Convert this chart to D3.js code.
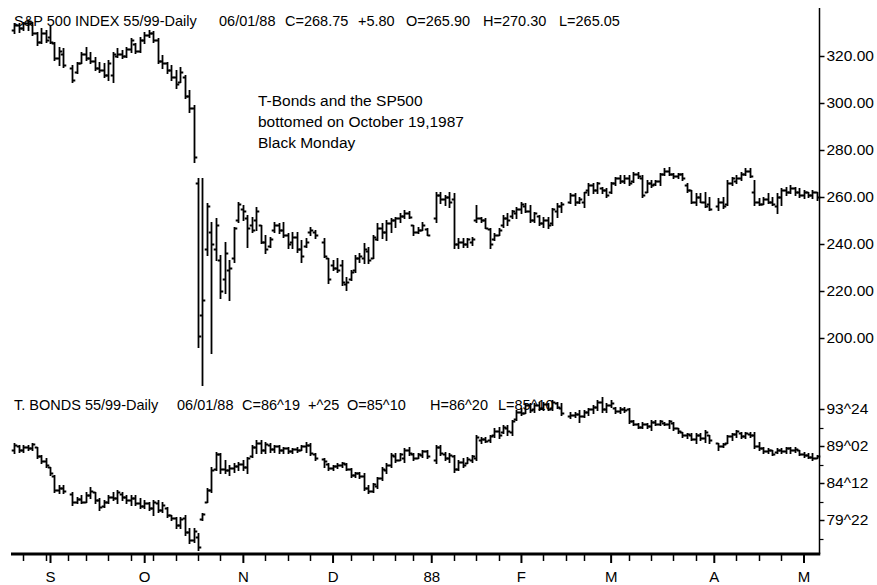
<!DOCTYPE html>
<html><head><meta charset="utf-8">
<script src="https://cdn.jsdelivr.net/npm/d3@7/dist/d3.min.js"></script>
<style>
html,body{margin:0;padding:0;background:#fff;}
svg{display:block;}
text{font-family:"Liberation Sans",Arial,sans-serif;fill:#000;}
</style></head>
<body>
<svg id="chart" width="877" height="585"></svg>
<script>
// ---------- DATA ----------
// Bars are consecutive trading days (Aug 20 1987 .. early May 1988); null = no bar drawn
// S&P 500 futures, daily [open, high, low, close]
const spx = [
[331,334,329.8,333],[333,334,330.2,332],[332,334.5,331.1,334],[334,335.3,331.1,335],[334,334.5,328.9,330],
[330,330.2,324.7,326],[326,331.9,325.5,330],[330,331.1,326,327],[328,333.2,325.5,326],[325.5,326,318.3,319],
[319,323.8,316.2,322],[321,323.4,315.3,316],null,[315,316.2,308.9,310],[313,317.4,312.8,317],
[317,321.7,317,321],[321,323.8,318.3,319],[319,321.7,317,318],[318,319.6,314,315],[315,317.4,313.2,314],
[314,317,311,312],[312,318.3,309.8,317],[312,321.7,309,321],[320,323.4,319.6,321],[321,322.6,319.2,320],
[320,323.8,319.6,323],[323,327.7,321.7,327],[325,325.5,321.3,322],[322,328,321.7,327],[327,330.2,325.5,329],
[329,331.1,328.1,330],[330,330.6,326,327],[327,327.7,317,318],[318,320.4,314.9,317],[317,317.4,312.8,314],
[314,316.2,309.8,311],[311,314,306.4,308],[309,315.3,309,313],[311,311.9,302.1,303],[303,305.5,296.2,298],
[298,299.1,274.9,277],[266,268,196,201],[210,268,180,216],[238,257.4,235.3,256],[245,249.4,193.6,240],
[238,251,233.2,248],[233,235.3,217,220],[225,240.9,219.2,236],[229,233.2,216.2,230],[234,247.2,232.3,247],
[250,257.9,249.4,257],[255,256.6,250.2,254],[251,252.4,238.7,247],[248,251.5,245.1,246],[250,255.8,246,254],
[248,248.1,240.4,241],[241,243.8,236.2,238],[239,243,238.7,242],[246,249.4,245.1,248],[248,249,244.7,246],
[246,249.4,243,244],[244,244.7,238.3,240],[241,245.1,238.3,243],[243,245.1,236.6,238],[238,241.7,232.3,235],
[239,242.6,238.7,241],[245,247.2,243.8,246],[245,246,242.6,244],null,[241,242.6,234.5,235],
[234,234,223.4,225],[231,233.2,229,230],[230,234,228.1,229],[231,233.2,222.6,224],[223,226,220.4,224],
[225,229,224.7,228],[229,235.3,228.1,234],[234,236.2,232.3,235],[234,240.4,231.9,238],[237,238.7,231.9,233],
[234,243.8,234,243],[242,249,241.7,247],[247,249,242.6,245],[245,250.2,241.7,249],[249,251.1,245.1,250],
[250,251.5,247.2,251],[251,253,249.4,252],[252,254.5,251.1,253],[253,254,251.1,251.5],[248,248.1,243.8,245],
[245,247.2,244.7,246],[246,249.4,246,248],[246.5,246.8,243.8,244],null,[251,262.1,249.4,261],
[261,262.1,257.5,259],[259,260.9,256.6,260],[260,262.1,255.8,258],[259,261.7,238.3,240],[240,242.6,238.3,241],
[241,242.6,238.7,240],[240,242.6,238.7,242],[241,243,239.6,242],[250,256.6,249.4,251],[251,251.5,249.4,250],
[250,251.1,246.8,247],[246.5,246.8,238.3,240],[242,244.7,241.7,244],[244,246.8,243.8,246],[248,252.4,247.2,251],
[251,253.2,248.1,250],[252,254.5,251.1,254],[253,255.8,251.1,255],[255,257.9,253.2,257],[256,257.5,253.6,254],
[254,256.6,249.4,250],[250,253.6,249.4,253],[252,252.4,248.1,249],[249,251.5,247.2,250],[250,251.5,246.8,248],
[249,255.3,248.1,255],[254,257.5,251.5,256],[256,257.9,253.6,257],null,[258,261.7,257.5,261],
[261,261.7,256.6,258],[258,260,257.5,259],[258,262.1,255.8,262],[263,265.9,260.9,265],[265,265.9,261.7,263],
[263,266.4,261.7,266],[264,264.3,261.7,263],[263,263.8,260,261],[262,266.4,261.5,266],[266,268.5,265.1,268],
[268,269.4,265.9,267],[267,269.4,265.9,268],[268,269.4,265.1,266],[267,270.6,266.4,270],[270,270.6,268,269],
[268,269.4,260,261],[262,267.2,262,266],[266,267.2,264.3,265],[265.5,267.2,265.1,267],[267,270.2,265.1,270],
[270,272.3,269.4,271],[271,272.8,269.4,270],[270,270.2,268,269],[269,270.2,268,270],[270,270.2,267.2,268],
[265,265.9,262.1,263],[263,263,257.5,258],[258,261.7,256.6,260],[260,261.7,257.9,258],[258,262.1,255.8,256],
[257,260,254.5,255],null,[256,259.6,254.5,258],[258,260,255.3,256],[257,267.2,256.6,266],
[266,268.5,265.1,268],[267,269.4,265.9,268],[268,270.6,267.2,270],[270,272.3,269.4,271],[271,272.3,268.5,269],
[262,267.2,256.6,258],[258,259.4,256.6,257],[257,260,257,259],[259,261.7,257.5,258],[258,260,256.6,257],
[256,261.7,253.2,260],[260,263.8,256.6,263],[263,264.3,260.9,262],[262,265.1,261.7,264],[264,264.3,260.9,262],
[262,263.8,260,261],[261,263,259.6,262],[262,262.1,260,261],[261,263,259.6,262],[262,262.1,258.7,260]
];
// T-Bond futures, daily [open, high, low, close] in points (decimal of 32nds)
const bond = [
[88.5,89.45,88.18,89.2],[89.0,89.19,88.31,88.6],[88.6,89.19,88.31,88.9],[88.9,89.19,88.56,88.8],[88.8,89.45,88.56,89.3],
[88.9,88.94,87.55,87.8],[87.8,87.93,86.91,87.2],[87.2,87.55,86.41,86.6],[86.4,86.41,85.39,85.6],[85.3,85.39,83.24,83.5],
[83.5,84.13,83.11,83.8],[83.8,84.13,83.11,83.4],null,[83.0,83.24,81.59,82.0],[82.0,82.61,81.85,82.4],
[82.4,82.86,81.85,82.0],[82.0,83.24,81.97,82.9],[82.9,83.87,82.48,83.4],[83.2,83.24,81.85,82.2],[82.2,82.48,80.96,81.3],
[81.5,82.23,81.34,82.0],[82.0,82.86,81.85,82.6],[82.6,83.24,82.23,82.5],[82.5,83.49,81.85,83.2],[83.0,83.24,82.23,82.6],
[82.6,82.86,81.85,82.2],[82.2,82.86,81.59,82.5],[82.5,82.86,81.59,81.9],[81.9,82.48,81.21,81.5],[81.5,82.23,81.21,81.9],
[81.8,81.97,80.96,81.2],[81.2,82.23,80.32,82.0],[81.9,82.23,80.7,81.0],[81.0,81.97,80.7,81.6],[81.2,81.34,80.07,80.3],
[80.3,80.32,79.69,79.9],[79.9,80.07,78.68,79.0],[79.0,80.07,78.68,79.8],[80.0,80.32,77.79,78.2],[78.2,78.68,76.78,77.2],
[77.2,78.68,76.9,78.3],[77.5,78.04,75.89,76.3],[79.8,80.58,79.69,80.4],[82.0,83.75,81.97,83.5],[83.5,86.41,83.24,86.0],
[86.2,88.31,86.03,88.0],[88.0,88.18,85.65,86.2],[86.2,87.29,85.65,86.0],[86.0,86.66,85.39,86.3],[86.3,86.91,85.77,86.5],
[86.5,87.04,86.03,86.8],[86.8,87.29,86.03,86.4],[86.4,87.67,85.65,87.5],[87.8,89.19,87.67,88.9],[88.9,89.83,88.18,89.5],
[89.5,89.83,88.18,88.6],[88.6,89.57,88.18,89.3],[89.2,89.45,88.31,88.7],[88.7,89.19,88.31,89.0],[89.0,89.19,88.18,88.6],
[88.6,88.94,88.18,88.8],[88.8,88.94,88.18,88.4],[88.4,88.81,88.18,88.7],[88.7,88.94,88.31,88.5],[88.6,89.19,88.56,89.0],
[89.0,89.57,88.31,89.2],[89.2,89.45,87.93,88.2],[88.0,88.18,87.29,87.5],null,[87.4,87.55,86.41,87.2],
[86.8,86.91,86.03,86.3],[86.3,86.66,86.03,86.5],[86.5,86.91,86.28,86.7],[86.7,87.04,86.41,86.9],[86.8,86.91,86.03,86.2],
[86.2,86.28,85.14,85.4],[85.4,85.77,85.14,85.6],[85.6,85.77,85.01,85.2],[85.2,85.65,83.49,83.8],[83.8,84.13,83.11,83.4],
[83.4,84.38,83.24,84.2],[84.0,85.14,83.75,85.0],[85.0,86.41,84.76,86.2],[86.0,86.91,85.65,86.7],[86.7,88.18,86.41,87.9],
[87.8,88.18,87.04,87.3],[87.3,88.18,87.29,88.0],[87.5,88.81,87.04,88.5],[88.5,88.94,87.93,88.2],[88.0,88.18,87.29,87.5],
[87.6,88.18,87.55,88.0],[87.9,88.56,87.67,88.4],[88.4,88.56,87.55,87.8],null,[87.3,89.19,86.91,88.9],
[88.9,89.19,87.93,88.2],[88.0,88.31,87.29,87.6],[87.6,88.18,87.04,87.9],[87.8,87.93,85.77,86.2],[86.2,87.29,86.03,87.0],
[87.0,87.55,86.41,86.7],[86.9,87.67,86.91,87.4],[87.3,87.93,87.04,87.8],[87.6,90.46,87.29,90.2],[89.8,90.21,89.45,89.9],
[89.9,90.21,89.57,89.7],[89.8,90.46,89.57,90.3],[90.4,91.35,90.21,91.0],[91.0,91.48,90.08,90.5],[90.8,91.73,90.71,91.5],
[91.4,91.73,90.46,91.0],[90.8,92.36,90.46,92.2],[92.5,93.63,92.36,93.4],[93.4,93.88,92.99,93.2],[93.3,94.52,93.25,94.2],
[94.2,94.52,93.37,93.6],[93.7,94.52,93.37,94.3],[94.2,94.64,93.63,93.9],[93.9,94.64,93.63,94.4],[94.4,94.52,93.63,93.8],
[93.9,94.89,93.63,94.7],[94.5,94.64,93.88,94.0],[93.9,94.52,92.99,93.2],null,[92.8,93.37,92.61,93.0],
[93.0,93.37,92.74,93.1],[93.1,93.63,92.11,92.9],[92.9,93.63,92.74,93.4],[93.4,93.88,92.99,93.7],[93.7,94.26,93.25,94.0],
[94.0,94.89,93.63,94.6],[94.6,95.27,93.37,93.8],[93.8,94.52,93.37,94.3],[94.3,94.89,94.01,94.5],[93.9,94.01,93.25,93.5],
[93.5,94.01,93.25,93.8],[93.8,94.01,93.37,93.6],[93.7,93.88,91.98,92.2],[92.2,92.36,91.73,91.9],[91.9,91.98,91.35,91.5],
[91.5,92.11,91.35,91.9],[91.9,91.98,91.35,91.6],[91.6,92.36,91.09,92.1],[92.1,92.36,91.73,91.9],[91.9,92.36,91.73,92.2],
[92.0,92.11,91.73,91.8],[91.8,92.36,91.35,92.2],[92.0,92.11,91.09,91.3],[91.3,91.35,90.71,90.9],[90.8,90.84,90.21,90.4],
[90.4,90.71,90.08,90.6],[90.5,90.71,89.83,90.0],[90.0,90.71,89.45,90.5],[90.4,90.71,89.83,90.1],[90.1,91.09,89.57,90.8],
[90.4,90.46,89.45,89.8],null,[89.4,89.45,88.56,89.0],[89.0,89.45,88.94,89.3],[89.5,90.46,89.45,90.3],
[90.3,90.71,89.83,90.6],[90.6,91.09,90.21,90.9],[90.7,90.84,90.08,90.3],[90.3,90.84,90.08,90.7],[90.6,90.84,90.21,90.5],
[90.5,90.84,88.81,89.0],[89.0,89.57,88.56,88.8],[88.8,88.94,88.18,88.4],[88.4,88.81,88.18,88.6],[88.5,88.56,87.93,88.1],
[88.3,88.81,88.18,88.6],[88.6,88.81,88.18,88.4],[88.4,88.94,88.18,88.8],[88.8,88.94,88.18,88.5],[88.5,88.94,88.31,88.7],
[88.5,88.56,87.93,88.1],[88.1,88.31,87.67,87.9],[87.9,88.18,87.55,87.7],[87.7,88.18,87.29,87.5],[87.6,87.93,87.55,87.8]
];
// month boundaries (bar number) and labels
const monthTicks = [8,29,51,71,93,113,133,156,176];
const monthLabels = ["S","O","N","D","88","F","M","A","M"];
// weekly (Monday) ticks, bar numbers
const weekTicks = [2,7,12,16,21,26,31,36,41,46,56,61,66,75,80,85,89,98,103,108,118,123,127,137,142,147,152,161,166,171];
// right axis ticks
const spxTicks = [200,220,240,260,280,300,320];
const bondTicks = [79.6875,84.375,89.0625,93.75];
const bondTickLabels = ["79^22","84^12","89^02","93^24"];
// headers
const spxHeader = ["S&P 500 INDEX 55/99-Daily","06/01/88","C=268.75","+5.80","O=265.90","H=270.30","L=265.05"];
const bondHeader = ["T. BONDS 55/99-Daily","06/01/88","C=86^19","+^25","O=85^10","H=86^20","L=85^10"];
const note = ["T-Bonds and the SP500","bottomed on October 19,1987","Black Monday"];

// ---------- LAYOUT ----------
const svg = d3.select("#chart");
svg.append("rect").attr("width",877).attr("height",585).attr("fill","#fff");

const x = d3.scaleLinear().domain([8,176]).range([50,803.5]);
const ySpx = d3.scaleLinear().domain([200,320]).range([338,56]);
const yBond = d3.scaleLinear().domain([79.6875,93.75]).range([520,409]);
const axisX = 819.5, baseY = 554;

function barPath(d,k,y){
  const cx = Math.round(x(k))+0.5;
  const [o,h,l,c] = d.map(v=>Math.round(y(v))+0.5);
  return `M${cx},${h-0.5}V${l+0.5}M${cx-2.8},${o}H${cx}M${cx},${c}H${cx+2.8}`;
}
function drawBars(data,y,cls){
  const rows = data.map((d,k)=>({d,k})).filter(r=>r.d);
  svg.append("g").selectAll("path."+cls).data(rows).join("path")
    .attr("class",cls)
    .attr("d",r=>barPath(r.d,r.k,y))
    .attr("fill","none").attr("stroke","#000").attr("stroke-width",1.8);
}
drawBars(spx,ySpx,"spx");
drawBars(bond,yBond,"bond");

// headers
const spxHx = [14,219,285,358,406,483,559];
const bondHx = [14,177,242,308,347,430,498];
svg.append("g").selectAll("text").data(spxHeader).join("text")
  .attr("x",(d,i)=>spxHx[i]).attr("y",26).attr("font-size",14.5).text(d=>d);
svg.append("g").selectAll("text").data(bondHeader).join("text")
  .attr("x",(d,i)=>bondHx[i]).attr("y",410).attr("font-size",14.5).text(d=>d);
svg.append("g").selectAll("text").data(note).join("text")
  .attr("x",258).attr("y",(d,i)=>106+i*21).attr("font-size",15.5).text(d=>d);

// right axis
svg.append("line").attr("x1",axisX).attr("x2",axisX).attr("y1",8).attr("y2",baseY)
  .attr("stroke","#000").attr("stroke-width",1.5);
const rs = svg.append("g").attr("transform",`translate(${axisX},0)`)
  .call(d3.axisRight(ySpx).tickValues(spxTicks).tickFormat(d3.format(".2f")).tickSize(5).tickPadding(2));
const rb = svg.append("g").attr("transform",`translate(${axisX},0)`)
  .call(d3.axisRight(yBond).tickValues(bondTicks).tickFormat((d,i)=>bondTickLabels[i]).tickSize(5).tickPadding(2));
const bondStep = bondTicks[1]-bondTicks[0];
const bondMinor = bondTicks.slice(0,3).map(v=>v+bondStep/2).concat([bondTicks[0]-bondStep/2]);
svg.append("g").selectAll("line").data(bondMinor).join("line")
  .attr("x1",axisX).attr("x2",axisX+4).attr("y1",d=>Math.round(yBond(d))+0.5).attr("y2",d=>Math.round(yBond(d))+0.5)
  .attr("stroke","#000").attr("stroke-width",1.2);
[rs,rb].forEach(g=>{
  g.select(".domain").remove();
  g.selectAll(".tick line").attr("stroke","#000").attr("stroke-width",1.5);
  g.selectAll(".tick text").attr("font-size",15.5).attr("font-family",'"Liberation Sans",Arial,sans-serif').attr("fill","#000");
});

// bottom axis
svg.append("line").attr("x1",11).attr("x2",axisX+0.75).attr("y1",baseY).attr("y2",baseY)
  .attr("stroke","#000").attr("stroke-width",3);
svg.append("g").selectAll("line").data(weekTicks).join("line")
  .attr("x1",d=>Math.round(x(d))+0.5).attr("x2",d=>Math.round(x(d))+0.5)
  .attr("y1",baseY).attr("y2",baseY+7).attr("stroke","#000").attr("stroke-width",1.5);
const bx = svg.append("g").attr("transform",`translate(0,${baseY})`)
  .call(d3.axisBottom(x).tickValues(monthTicks).tickFormat((d,i)=>monthLabels[i]).tickSize(9).tickPadding(8));
bx.select(".domain").remove();
bx.selectAll(".tick line").attr("stroke","#000").attr("stroke-width",2);
bx.selectAll(".tick text").attr("font-size",15).attr("font-family",'"Liberation Sans",Arial,sans-serif').attr("fill","#000");
</script>
</body></html>
